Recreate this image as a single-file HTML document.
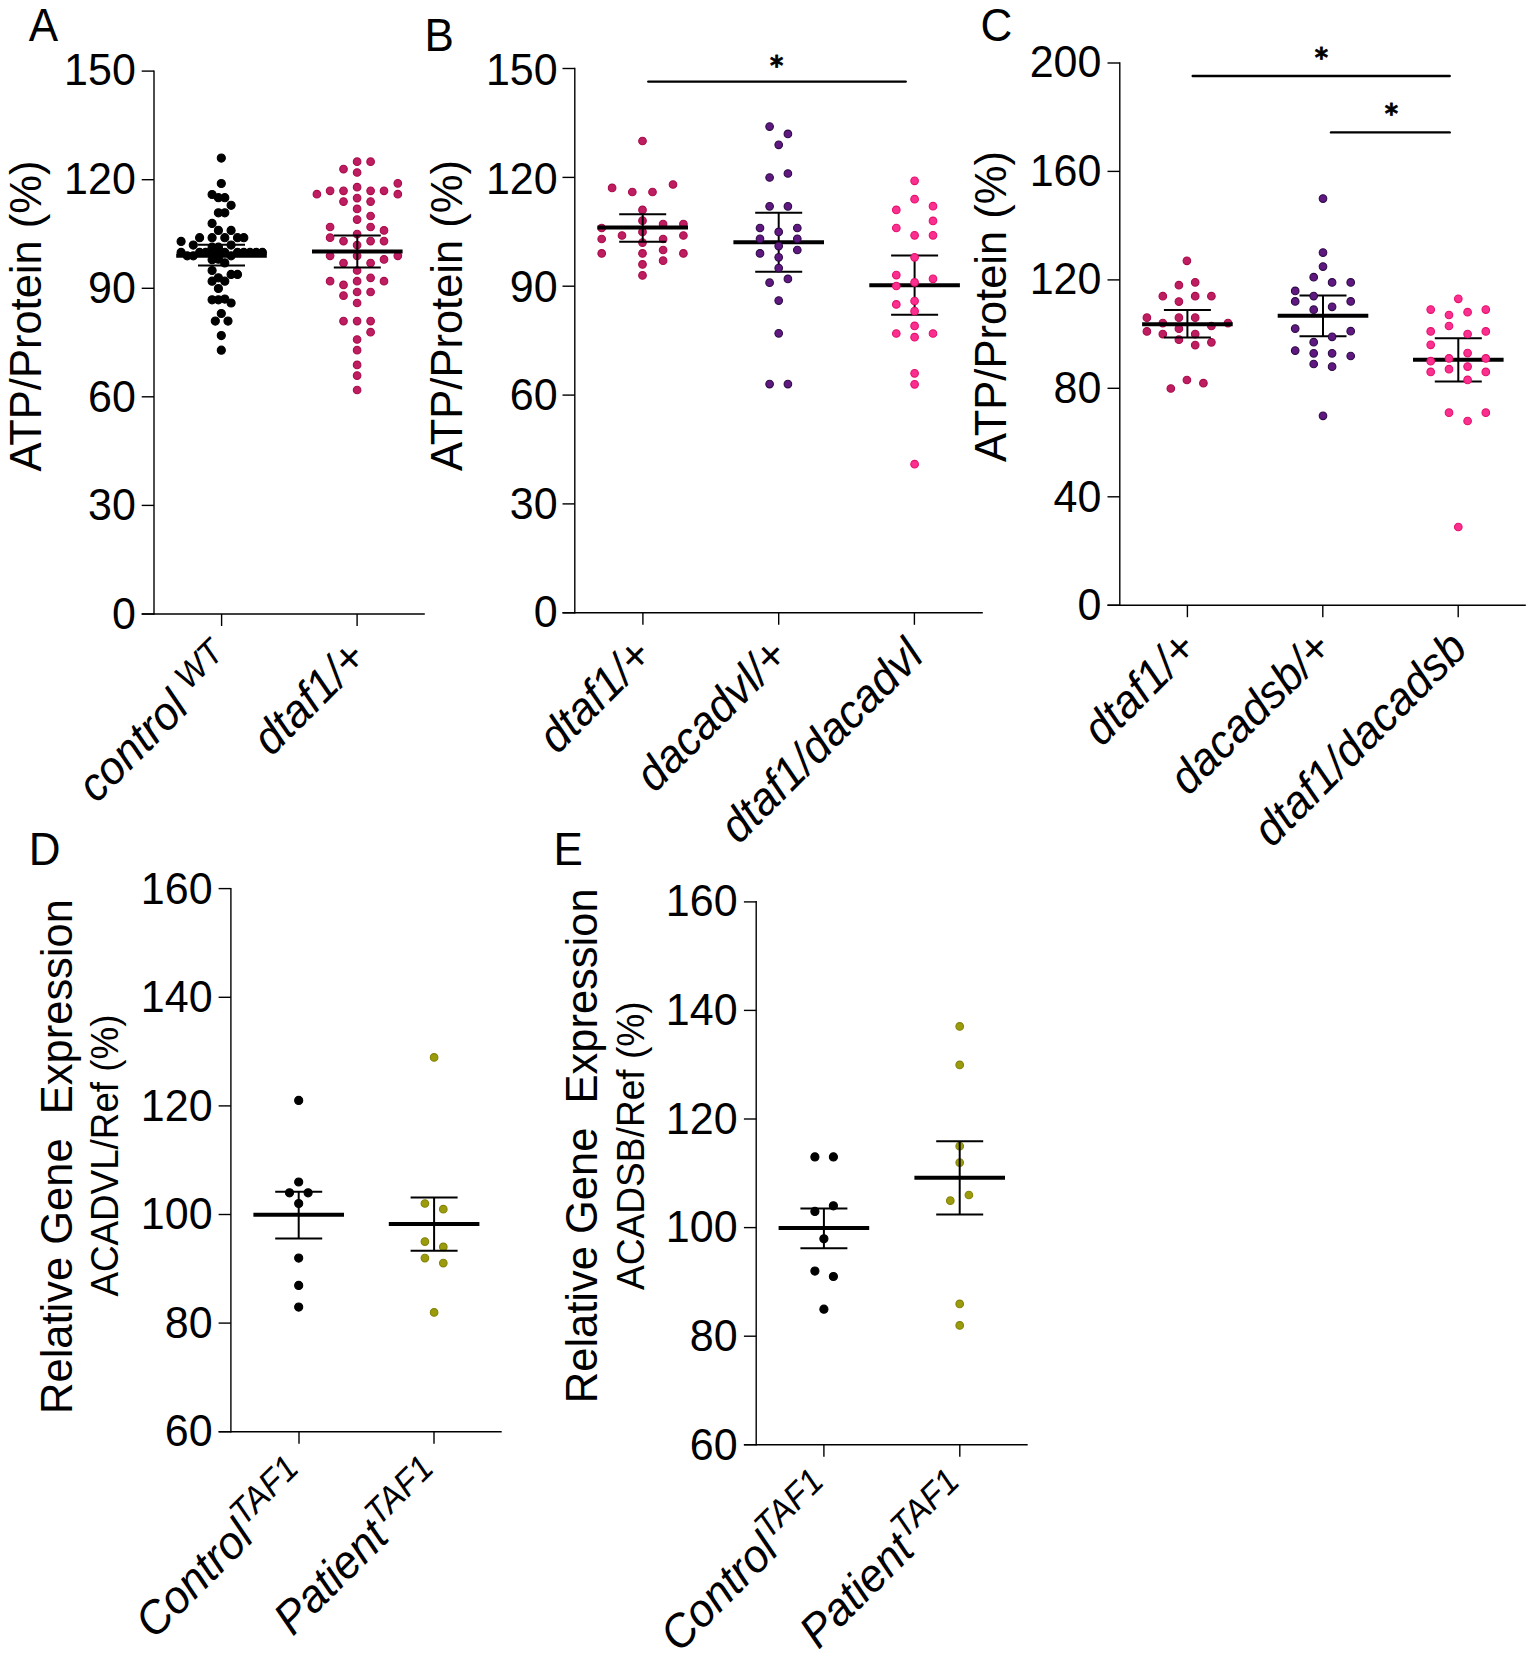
<!DOCTYPE html>
<html lang="en">
<head>
<meta charset="utf-8">
<title>Figure</title>
<style>
html,body{margin:0;padding:0;background:#fff;}
body{width:1535px;height:1658px;overflow:hidden;}
svg{display:block;font-family:"Liberation Sans", Arial, Helvetica, sans-serif;fill:#000;}
</style>
</head>
<body>
<svg width="1535" height="1658" viewBox="0 0 1535 1658">
<rect x="0" y="0" width="1535" height="1658" fill="#ffffff"/>
<line x1="154.0" y1="70.4" x2="154.0" y2="614.7" stroke="#000" stroke-width="1.4" stroke-linecap="butt"/>
<line x1="141.7" y1="614.0" x2="424.8" y2="614.0" stroke="#000" stroke-width="1.4" stroke-linecap="butt"/>
<line x1="141.7" y1="71.1" x2="154.0" y2="71.1" stroke="#000" stroke-width="1.4" stroke-linecap="butt"/>
<text font-size="43" text-anchor="end" transform="translate(135.8 85.4) scale(1 1.04)">150</text>
<line x1="141.7" y1="179.7" x2="154.0" y2="179.7" stroke="#000" stroke-width="1.4" stroke-linecap="butt"/>
<text font-size="43" text-anchor="end" transform="translate(135.8 194.1) scale(1 1.04)">120</text>
<line x1="141.7" y1="288.3" x2="154.0" y2="288.3" stroke="#000" stroke-width="1.4" stroke-linecap="butt"/>
<text font-size="43" text-anchor="end" transform="translate(135.8 302.8) scale(1 1.04)">90</text>
<line x1="141.7" y1="396.8" x2="154.0" y2="396.8" stroke="#000" stroke-width="1.4" stroke-linecap="butt"/>
<text font-size="43" text-anchor="end" transform="translate(135.8 411.6) scale(1 1.04)">60</text>
<line x1="141.7" y1="505.4" x2="154.0" y2="505.4" stroke="#000" stroke-width="1.4" stroke-linecap="butt"/>
<text font-size="43" text-anchor="end" transform="translate(135.8 520.3) scale(1 1.04)">30</text>
<line x1="141.7" y1="614.0" x2="154.0" y2="614.0" stroke="#000" stroke-width="1.4" stroke-linecap="butt"/>
<text font-size="43" text-anchor="end" transform="translate(135.8 629.0) scale(1 1.04)">0</text>
<line x1="221.6" y1="614.0" x2="221.6" y2="626.0" stroke="#000" stroke-width="1.4" stroke-linecap="butt"/>
<line x1="357.1" y1="614.0" x2="357.1" y2="626.0" stroke="#000" stroke-width="1.4" stroke-linecap="butt"/>
<text font-size="44" text-anchor="start" transform="translate(28.8 40.6) scale(1 1.04)">A</text>
<text font-size="43.5" text-anchor="start" transform="translate(41.2 471.5) rotate(-90) scale(1 1.04)">ATP/Protein (%)</text>
<line x1="221.5" y1="244.8" x2="221.5" y2="265.6" stroke="#000" stroke-width="2.0" stroke-linecap="butt"/>
<line x1="198.0" y1="244.8" x2="245.0" y2="244.8" stroke="#000" stroke-width="2.0" stroke-linecap="butt"/>
<line x1="198.0" y1="265.6" x2="245.0" y2="265.6" stroke="#000" stroke-width="2.0" stroke-linecap="butt"/>
<line x1="176.2" y1="255.8" x2="266.8" y2="255.8" stroke="#000" stroke-width="4.0" stroke-linecap="butt"/>
<g fill="#000000" stroke="#000000" stroke-width="1.1">
<circle cx="221.3" cy="158.1" r="4.05"/>
<circle cx="221.3" cy="183.5" r="4.05"/>
<circle cx="212.1" cy="194.5" r="4.05"/>
<circle cx="218.4" cy="197.7" r="4.05"/>
<circle cx="224.8" cy="197.7" r="4.05"/>
<circle cx="231.1" cy="205.3" r="4.05"/>
<circle cx="218.4" cy="212.8" r="4.05"/>
<circle cx="224.8" cy="212.8" r="4.05"/>
<circle cx="212.1" cy="223.4" r="4.05"/>
<circle cx="218.4" cy="230.4" r="4.05"/>
<circle cx="231.1" cy="230.4" r="4.05"/>
<circle cx="199.6" cy="237.7" r="4.05"/>
<circle cx="212.1" cy="237.7" r="4.05"/>
<circle cx="224.8" cy="237.7" r="4.05"/>
<circle cx="237.5" cy="237.7" r="4.05"/>
<circle cx="243.8" cy="237.7" r="4.05"/>
<circle cx="181.1" cy="241.4" r="4.05"/>
<circle cx="193.3" cy="245.1" r="4.05"/>
<circle cx="231.1" cy="245.1" r="4.05"/>
<circle cx="212.1" cy="247.2" r="4.05"/>
<circle cx="218.4" cy="247.2" r="4.05"/>
<circle cx="181.1" cy="252.4" r="4.05"/>
<circle cx="187.2" cy="255.8" r="4.05"/>
<circle cx="193.3" cy="255.8" r="4.05"/>
<circle cx="199.6" cy="252.4" r="4.05"/>
<circle cx="205.7" cy="252.4" r="4.05"/>
<circle cx="212.1" cy="252.4" r="4.05"/>
<circle cx="218.4" cy="252.4" r="4.05"/>
<circle cx="224.8" cy="252.4" r="4.05"/>
<circle cx="231.1" cy="255.8" r="4.05"/>
<circle cx="237.5" cy="252.4" r="4.05"/>
<circle cx="243.8" cy="252.4" r="4.05"/>
<circle cx="250.0" cy="252.4" r="4.05"/>
<circle cx="256.2" cy="252.4" r="4.05"/>
<circle cx="262.4" cy="252.4" r="4.05"/>
<circle cx="212.1" cy="259.7" r="4.05"/>
<circle cx="218.4" cy="259.2" r="4.05"/>
<circle cx="224.8" cy="262.9" r="4.05"/>
<circle cx="212.1" cy="270.5" r="4.05"/>
<circle cx="231.1" cy="274.4" r="4.05"/>
<circle cx="237.5" cy="274.4" r="4.05"/>
<circle cx="218.4" cy="277.8" r="4.05"/>
<circle cx="212.1" cy="281.2" r="4.05"/>
<circle cx="224.8" cy="281.2" r="4.05"/>
<circle cx="218.4" cy="288.5" r="4.05"/>
<circle cx="212.1" cy="299.8" r="4.05"/>
<circle cx="218.4" cy="299.8" r="4.05"/>
<circle cx="224.8" cy="299.1" r="4.05"/>
<circle cx="231.1" cy="303.0" r="4.05"/>
<circle cx="221.3" cy="313.5" r="4.05"/>
<circle cx="215.3" cy="321.1" r="4.05"/>
<circle cx="228.0" cy="321.1" r="4.05"/>
<circle cx="221.3" cy="335.6" r="4.05"/>
<circle cx="221.3" cy="350.2" r="4.05"/>
</g>
<g fill="#be1d62" stroke="#a80c48" stroke-width="1.1">
<circle cx="357.1" cy="161.7" r="3.8"/>
<circle cx="370.6" cy="161.7" r="3.8"/>
<circle cx="343.5" cy="169.1" r="3.8"/>
<circle cx="357.1" cy="172.5" r="3.8"/>
<circle cx="397.8" cy="183.3" r="3.8"/>
<circle cx="357.1" cy="187.2" r="3.8"/>
<circle cx="330.1" cy="190.8" r="3.8"/>
<circle cx="343.5" cy="190.8" r="3.8"/>
<circle cx="370.6" cy="190.8" r="3.8"/>
<circle cx="384.0" cy="190.8" r="3.8"/>
<circle cx="316.9" cy="194.2" r="3.8"/>
<circle cx="397.8" cy="194.2" r="3.8"/>
<circle cx="357.1" cy="198.1" r="3.8"/>
<circle cx="343.5" cy="201.6" r="3.8"/>
<circle cx="370.6" cy="201.6" r="3.8"/>
<circle cx="357.1" cy="208.9" r="3.8"/>
<circle cx="370.6" cy="216.0" r="3.8"/>
<circle cx="357.1" cy="219.6" r="3.8"/>
<circle cx="330.1" cy="227.0" r="3.8"/>
<circle cx="370.6" cy="227.0" r="3.8"/>
<circle cx="384.0" cy="230.4" r="3.8"/>
<circle cx="357.1" cy="234.1" r="3.8"/>
<circle cx="330.1" cy="237.7" r="3.8"/>
<circle cx="343.5" cy="241.1" r="3.8"/>
<circle cx="370.6" cy="241.1" r="3.8"/>
<circle cx="384.0" cy="241.1" r="3.8"/>
<circle cx="357.1" cy="245.1" r="3.8"/>
<circle cx="330.1" cy="255.8" r="3.8"/>
<circle cx="357.1" cy="255.8" r="3.8"/>
<circle cx="397.8" cy="255.8" r="3.8"/>
<circle cx="384.0" cy="259.4" r="3.8"/>
<circle cx="343.5" cy="263.1" r="3.8"/>
<circle cx="370.6" cy="263.1" r="3.8"/>
<circle cx="357.1" cy="270.5" r="3.8"/>
<circle cx="370.6" cy="277.8" r="3.8"/>
<circle cx="330.1" cy="281.2" r="3.8"/>
<circle cx="357.1" cy="281.2" r="3.8"/>
<circle cx="384.0" cy="281.2" r="3.8"/>
<circle cx="343.5" cy="284.9" r="3.8"/>
<circle cx="357.1" cy="292.0" r="3.8"/>
<circle cx="370.6" cy="292.0" r="3.8"/>
<circle cx="343.5" cy="295.7" r="3.8"/>
<circle cx="357.1" cy="303.0" r="3.8"/>
<circle cx="343.5" cy="321.1" r="3.8"/>
<circle cx="357.1" cy="321.1" r="3.8"/>
<circle cx="370.6" cy="321.1" r="3.8"/>
<circle cx="370.6" cy="332.2" r="3.8"/>
<circle cx="357.1" cy="339.5" r="3.8"/>
<circle cx="357.1" cy="350.2" r="3.8"/>
<circle cx="357.1" cy="364.9" r="3.8"/>
<circle cx="357.1" cy="375.6" r="3.8"/>
<circle cx="357.1" cy="390.0" r="3.8"/>
</g>
<line x1="357.3" y1="235.6" x2="357.3" y2="267.5" stroke="#000" stroke-width="2.0" stroke-linecap="butt"/>
<line x1="333.8" y1="235.6" x2="380.8" y2="235.6" stroke="#000" stroke-width="2.0" stroke-linecap="butt"/>
<line x1="333.8" y1="267.5" x2="380.8" y2="267.5" stroke="#000" stroke-width="2.0" stroke-linecap="butt"/>
<line x1="312.0" y1="251.5" x2="402.6" y2="251.5" stroke="#000" stroke-width="4.0" stroke-linecap="butt"/>
<text font-size="44.5" text-anchor="end" font-style="italic" transform="translate(236.0 664.7) rotate(-45) scale(1 1.04)">control<tspan font-size="33.5" dx="2.5" dy="-14.3"> WT</tspan></text>
<text font-size="44.5" text-anchor="end" font-style="italic" transform="translate(368.5 660.3) rotate(-45) scale(1 1.04)">dtaf1/+</text>
<line x1="574.8" y1="67.8" x2="574.8" y2="613.5" stroke="#000" stroke-width="1.4" stroke-linecap="butt"/>
<line x1="562.5" y1="612.8" x2="982.8" y2="612.8" stroke="#000" stroke-width="1.4" stroke-linecap="butt"/>
<line x1="562.5" y1="68.5" x2="574.8" y2="68.5" stroke="#000" stroke-width="1.4" stroke-linecap="butt"/>
<text font-size="43" text-anchor="end" transform="translate(557.7 85.3) scale(1 1.04)">150</text>
<line x1="562.5" y1="177.4" x2="574.8" y2="177.4" stroke="#000" stroke-width="1.4" stroke-linecap="butt"/>
<text font-size="43" text-anchor="end" transform="translate(557.7 193.7) scale(1 1.04)">120</text>
<line x1="562.5" y1="286.2" x2="574.8" y2="286.2" stroke="#000" stroke-width="1.4" stroke-linecap="butt"/>
<text font-size="43" text-anchor="end" transform="translate(557.7 302.1) scale(1 1.04)">90</text>
<line x1="562.5" y1="395.1" x2="574.8" y2="395.1" stroke="#000" stroke-width="1.4" stroke-linecap="butt"/>
<text font-size="43" text-anchor="end" transform="translate(557.7 410.4) scale(1 1.04)">60</text>
<line x1="562.5" y1="503.9" x2="574.8" y2="503.9" stroke="#000" stroke-width="1.4" stroke-linecap="butt"/>
<text font-size="43" text-anchor="end" transform="translate(557.7 518.8) scale(1 1.04)">30</text>
<line x1="562.5" y1="612.8" x2="574.8" y2="612.8" stroke="#000" stroke-width="1.4" stroke-linecap="butt"/>
<text font-size="43" text-anchor="end" transform="translate(557.7 627.2) scale(1 1.04)">0</text>
<line x1="642.9" y1="612.8" x2="642.9" y2="624.8" stroke="#000" stroke-width="1.4" stroke-linecap="butt"/>
<line x1="778.7" y1="612.8" x2="778.7" y2="624.8" stroke="#000" stroke-width="1.4" stroke-linecap="butt"/>
<line x1="914.4" y1="612.8" x2="914.4" y2="624.8" stroke="#000" stroke-width="1.4" stroke-linecap="butt"/>
<text font-size="44" text-anchor="start" transform="translate(424.6 51.2) scale(1 1.04)">B</text>
<text font-size="43.5" text-anchor="start" transform="translate(462.0 471.0) rotate(-90) scale(1 1.04)">ATP/Protein (%)</text>
<g fill="#be1d62" stroke="#a80c48" stroke-width="1.1">
<circle cx="642.5" cy="141.0" r="3.8"/>
<circle cx="612.1" cy="187.9" r="3.8"/>
<circle cx="673.0" cy="184.5" r="3.8"/>
<circle cx="632.3" cy="192.0" r="3.8"/>
<circle cx="652.5" cy="192.0" r="3.8"/>
<circle cx="642.5" cy="209.9" r="3.8"/>
<circle cx="642.5" cy="220.7" r="3.8"/>
<circle cx="663.1" cy="224.1" r="3.8"/>
<circle cx="683.4" cy="224.1" r="3.8"/>
<circle cx="601.7" cy="228.0" r="3.8"/>
<circle cx="642.5" cy="231.9" r="3.8"/>
<circle cx="622.0" cy="235.5" r="3.8"/>
<circle cx="683.4" cy="235.5" r="3.8"/>
<circle cx="601.7" cy="239.0" r="3.8"/>
<circle cx="663.1" cy="239.0" r="3.8"/>
<circle cx="642.5" cy="242.6" r="3.8"/>
<circle cx="663.1" cy="250.0" r="3.8"/>
<circle cx="601.7" cy="253.4" r="3.8"/>
<circle cx="642.5" cy="253.4" r="3.8"/>
<circle cx="683.4" cy="253.4" r="3.8"/>
<circle cx="663.1" cy="260.7" r="3.8"/>
<circle cx="642.5" cy="264.4" r="3.8"/>
<circle cx="642.5" cy="275.4" r="3.8"/>
</g>
<line x1="642.7" y1="214.3" x2="642.7" y2="241.7" stroke="#000" stroke-width="2.0" stroke-linecap="butt"/>
<line x1="619.2" y1="214.3" x2="666.2" y2="214.3" stroke="#000" stroke-width="2.0" stroke-linecap="butt"/>
<line x1="619.2" y1="241.7" x2="666.2" y2="241.7" stroke="#000" stroke-width="2.0" stroke-linecap="butt"/>
<line x1="597.4" y1="227.5" x2="688.0" y2="227.5" stroke="#000" stroke-width="4.0" stroke-linecap="butt"/>
<line x1="778.7" y1="212.7" x2="778.7" y2="271.8" stroke="#000" stroke-width="2.0" stroke-linecap="butt"/>
<line x1="755.2" y1="212.7" x2="802.2" y2="212.7" stroke="#000" stroke-width="2.0" stroke-linecap="butt"/>
<line x1="755.2" y1="271.8" x2="802.2" y2="271.8" stroke="#000" stroke-width="2.0" stroke-linecap="butt"/>
<line x1="733.4" y1="242.2" x2="824.0" y2="242.2" stroke="#000" stroke-width="4.0" stroke-linecap="butt"/>
<g fill="#5f1880" stroke="#2e0b47" stroke-width="1.1">
<circle cx="769.6" cy="126.6" r="3.8"/>
<circle cx="787.9" cy="133.9" r="3.8"/>
<circle cx="778.7" cy="144.8" r="3.8"/>
<circle cx="787.9" cy="173.5" r="3.8"/>
<circle cx="769.6" cy="177.5" r="3.8"/>
<circle cx="769.6" cy="206.3" r="3.8"/>
<circle cx="787.9" cy="206.3" r="3.8"/>
<circle cx="760.0" cy="228.0" r="3.8"/>
<circle cx="797.3" cy="228.0" r="3.8"/>
<circle cx="778.7" cy="231.9" r="3.8"/>
<circle cx="760.0" cy="238.8" r="3.8"/>
<circle cx="797.3" cy="238.8" r="3.8"/>
<circle cx="778.7" cy="246.1" r="3.8"/>
<circle cx="797.3" cy="250.0" r="3.8"/>
<circle cx="760.0" cy="253.4" r="3.8"/>
<circle cx="778.7" cy="257.3" r="3.8"/>
<circle cx="778.7" cy="268.1" r="3.8"/>
<circle cx="787.9" cy="278.9" r="3.8"/>
<circle cx="769.6" cy="282.7" r="3.8"/>
<circle cx="778.7" cy="300.6" r="3.8"/>
<circle cx="778.7" cy="333.3" r="3.8"/>
<circle cx="769.6" cy="384.1" r="3.8"/>
<circle cx="787.9" cy="384.1" r="3.8"/>
</g>
<line x1="914.6" y1="255.5" x2="914.6" y2="314.7" stroke="#000" stroke-width="2.0" stroke-linecap="butt"/>
<line x1="891.1" y1="255.5" x2="938.1" y2="255.5" stroke="#000" stroke-width="2.0" stroke-linecap="butt"/>
<line x1="891.1" y1="314.7" x2="938.1" y2="314.7" stroke="#000" stroke-width="2.0" stroke-linecap="butt"/>
<line x1="869.3" y1="285.2" x2="959.9" y2="285.2" stroke="#000" stroke-width="4.0" stroke-linecap="butt"/>
<g fill="#fa2f90" stroke="#e3126c" stroke-width="1.1">
<circle cx="914.6" cy="180.8" r="3.8"/>
<circle cx="914.6" cy="199.2" r="3.8"/>
<circle cx="933.0" cy="206.2" r="3.8"/>
<circle cx="896.3" cy="209.9" r="3.8"/>
<circle cx="933.0" cy="220.9" r="3.8"/>
<circle cx="896.3" cy="228.0" r="3.8"/>
<circle cx="914.6" cy="235.3" r="3.8"/>
<circle cx="933.0" cy="235.3" r="3.8"/>
<circle cx="914.6" cy="257.3" r="3.8"/>
<circle cx="896.3" cy="275.1" r="3.8"/>
<circle cx="933.0" cy="278.8" r="3.8"/>
<circle cx="914.6" cy="282.4" r="3.8"/>
<circle cx="896.3" cy="286.0" r="3.8"/>
<circle cx="914.6" cy="301.0" r="3.8"/>
<circle cx="896.3" cy="304.4" r="3.8"/>
<circle cx="914.6" cy="311.2" r="3.8"/>
<circle cx="914.6" cy="325.9" r="3.8"/>
<circle cx="896.3" cy="333.5" r="3.8"/>
<circle cx="933.0" cy="333.5" r="3.8"/>
<circle cx="914.6" cy="337.2" r="3.8"/>
<circle cx="914.6" cy="373.3" r="3.8"/>
<circle cx="914.6" cy="384.3" r="3.8"/>
<circle cx="914.6" cy="464.2" r="3.8"/>
</g>
<line x1="648.3" y1="81.6" x2="905.7" y2="81.6" stroke="#000" stroke-width="2.4" stroke-linecap="round"/>
<text font-size="25.4" text-anchor="middle" transform="translate(776.7 75.0) scale(1 1.08)" font-weight="bold" font-family="DejaVu Sans, Liberation Sans, sans-serif" stroke="#000" stroke-width="0.7" stroke-linejoin="round">*</text>
<text font-size="44.5" text-anchor="end" font-style="italic" transform="translate(654.3 658.2) rotate(-45) scale(1 1.04)">dtaf1/+</text>
<text font-size="44.5" text-anchor="end" font-style="italic" transform="translate(790.1 658.2) rotate(-45) scale(1 1.04)">dacadvl/+</text>
<text font-size="44.5" text-anchor="end" font-style="italic" transform="translate(925.8 658.2) rotate(-45) scale(1 1.04)">dtaf1/dacadvl</text>
<line x1="1119.8" y1="62.3" x2="1119.8" y2="605.9" stroke="#000" stroke-width="1.4" stroke-linecap="butt"/>
<line x1="1107.5" y1="605.2" x2="1525.8" y2="605.2" stroke="#000" stroke-width="1.4" stroke-linecap="butt"/>
<line x1="1107.5" y1="63.0" x2="1119.8" y2="63.0" stroke="#000" stroke-width="1.4" stroke-linecap="butt"/>
<text font-size="43" text-anchor="end" transform="translate(1101.4 77.0) scale(1 1.04)">200</text>
<line x1="1107.5" y1="171.4" x2="1119.8" y2="171.4" stroke="#000" stroke-width="1.4" stroke-linecap="butt"/>
<text font-size="43" text-anchor="end" transform="translate(1101.4 185.6) scale(1 1.04)">160</text>
<line x1="1107.5" y1="279.9" x2="1119.8" y2="279.9" stroke="#000" stroke-width="1.4" stroke-linecap="butt"/>
<text font-size="43" text-anchor="end" transform="translate(1101.4 294.3) scale(1 1.04)">120</text>
<line x1="1107.5" y1="388.3" x2="1119.8" y2="388.3" stroke="#000" stroke-width="1.4" stroke-linecap="butt"/>
<text font-size="43" text-anchor="end" transform="translate(1101.4 402.9) scale(1 1.04)">80</text>
<line x1="1107.5" y1="496.8" x2="1119.8" y2="496.8" stroke="#000" stroke-width="1.4" stroke-linecap="butt"/>
<text font-size="43" text-anchor="end" transform="translate(1101.4 511.6) scale(1 1.04)">40</text>
<line x1="1107.5" y1="605.2" x2="1119.8" y2="605.2" stroke="#000" stroke-width="1.4" stroke-linecap="butt"/>
<text font-size="43" text-anchor="end" transform="translate(1101.4 620.2) scale(1 1.04)">0</text>
<line x1="1187.4" y1="605.2" x2="1187.4" y2="617.2" stroke="#000" stroke-width="1.4" stroke-linecap="butt"/>
<line x1="1322.8" y1="605.2" x2="1322.8" y2="617.2" stroke="#000" stroke-width="1.4" stroke-linecap="butt"/>
<line x1="1458.2" y1="605.2" x2="1458.2" y2="617.2" stroke="#000" stroke-width="1.4" stroke-linecap="butt"/>
<text font-size="44" text-anchor="start" transform="translate(980.5 41.2) scale(1 1.04)">C</text>
<text font-size="43.5" text-anchor="start" transform="translate(1006.0 462.0) rotate(-90) scale(1 1.04)">ATP/Protein (%)</text>
<g fill="#be1d62" stroke="#a80c48" stroke-width="1.1">
<circle cx="1186.9" cy="260.8" r="3.8"/>
<circle cx="1195.2" cy="282.3" r="3.8"/>
<circle cx="1178.9" cy="285.2" r="3.8"/>
<circle cx="1162.8" cy="296.2" r="3.8"/>
<circle cx="1195.2" cy="296.2" r="3.8"/>
<circle cx="1211.4" cy="296.2" r="3.8"/>
<circle cx="1178.9" cy="301.6" r="3.8"/>
<circle cx="1146.9" cy="317.7" r="3.8"/>
<circle cx="1178.9" cy="317.7" r="3.8"/>
<circle cx="1195.2" cy="317.7" r="3.8"/>
<circle cx="1162.8" cy="323.1" r="3.8"/>
<circle cx="1228.0" cy="323.1" r="3.8"/>
<circle cx="1211.4" cy="326.0" r="3.8"/>
<circle cx="1178.9" cy="328.7" r="3.8"/>
<circle cx="1146.9" cy="331.4" r="3.8"/>
<circle cx="1162.8" cy="334.1" r="3.8"/>
<circle cx="1195.2" cy="334.1" r="3.8"/>
<circle cx="1178.9" cy="339.7" r="3.8"/>
<circle cx="1211.4" cy="342.3" r="3.8"/>
<circle cx="1195.2" cy="345.1" r="3.8"/>
<circle cx="1186.9" cy="380.0" r="3.8"/>
<circle cx="1203.4" cy="383.2" r="3.8"/>
<circle cx="1170.8" cy="388.5" r="3.8"/>
</g>
<line x1="1187.4" y1="310.1" x2="1187.4" y2="337.4" stroke="#000" stroke-width="2.0" stroke-linecap="butt"/>
<line x1="1163.9" y1="310.1" x2="1210.9" y2="310.1" stroke="#000" stroke-width="2.0" stroke-linecap="butt"/>
<line x1="1163.9" y1="337.4" x2="1210.9" y2="337.4" stroke="#000" stroke-width="2.0" stroke-linecap="butt"/>
<line x1="1142.1" y1="324.2" x2="1232.7" y2="324.2" stroke="#000" stroke-width="4.0" stroke-linecap="butt"/>
<line x1="1323.0" y1="295.6" x2="1323.0" y2="336.2" stroke="#000" stroke-width="2.0" stroke-linecap="butt"/>
<line x1="1299.5" y1="295.6" x2="1346.5" y2="295.6" stroke="#000" stroke-width="2.0" stroke-linecap="butt"/>
<line x1="1299.5" y1="336.2" x2="1346.5" y2="336.2" stroke="#000" stroke-width="2.0" stroke-linecap="butt"/>
<line x1="1277.7" y1="315.8" x2="1368.3" y2="315.8" stroke="#000" stroke-width="4.0" stroke-linecap="butt"/>
<g fill="#5f1880" stroke="#2e0b47" stroke-width="1.1">
<circle cx="1323.0" cy="198.6" r="3.8"/>
<circle cx="1323.0" cy="252.6" r="3.8"/>
<circle cx="1323.0" cy="266.6" r="3.8"/>
<circle cx="1313.7" cy="277.2" r="3.8"/>
<circle cx="1332.1" cy="282.4" r="3.8"/>
<circle cx="1350.7" cy="282.4" r="3.8"/>
<circle cx="1295.2" cy="290.9" r="3.8"/>
<circle cx="1313.7" cy="296.1" r="3.8"/>
<circle cx="1295.2" cy="301.4" r="3.8"/>
<circle cx="1350.7" cy="301.4" r="3.8"/>
<circle cx="1332.1" cy="306.8" r="3.8"/>
<circle cx="1313.7" cy="309.7" r="3.8"/>
<circle cx="1295.2" cy="328.6" r="3.8"/>
<circle cx="1350.7" cy="331.2" r="3.8"/>
<circle cx="1332.1" cy="336.8" r="3.8"/>
<circle cx="1313.7" cy="342.2" r="3.8"/>
<circle cx="1295.2" cy="350.6" r="3.8"/>
<circle cx="1313.7" cy="353.3" r="3.8"/>
<circle cx="1332.1" cy="353.3" r="3.8"/>
<circle cx="1350.7" cy="356.0" r="3.8"/>
<circle cx="1313.7" cy="364.0" r="3.8"/>
<circle cx="1332.1" cy="366.7" r="3.8"/>
<circle cx="1323.0" cy="415.8" r="3.8"/>
</g>
<line x1="1458.3" y1="338.2" x2="1458.3" y2="381.6" stroke="#000" stroke-width="2.0" stroke-linecap="butt"/>
<line x1="1434.8" y1="338.2" x2="1481.8" y2="338.2" stroke="#000" stroke-width="2.0" stroke-linecap="butt"/>
<line x1="1434.8" y1="381.6" x2="1481.8" y2="381.6" stroke="#000" stroke-width="2.0" stroke-linecap="butt"/>
<line x1="1413.0" y1="359.7" x2="1503.6" y2="359.7" stroke="#000" stroke-width="4.0" stroke-linecap="butt"/>
<g fill="#fa2f90" stroke="#e3126c" stroke-width="1.1">
<circle cx="1458.3" cy="298.8" r="3.8"/>
<circle cx="1430.7" cy="309.6" r="3.8"/>
<circle cx="1485.8" cy="309.6" r="3.8"/>
<circle cx="1467.6" cy="312.2" r="3.8"/>
<circle cx="1449.0" cy="315.0" r="3.8"/>
<circle cx="1449.0" cy="326.0" r="3.8"/>
<circle cx="1430.7" cy="331.4" r="3.8"/>
<circle cx="1485.8" cy="331.4" r="3.8"/>
<circle cx="1467.6" cy="334.0" r="3.8"/>
<circle cx="1430.7" cy="344.8" r="3.8"/>
<circle cx="1467.6" cy="353.1" r="3.8"/>
<circle cx="1449.0" cy="358.4" r="3.8"/>
<circle cx="1485.8" cy="358.4" r="3.8"/>
<circle cx="1430.7" cy="361.2" r="3.8"/>
<circle cx="1467.6" cy="366.6" r="3.8"/>
<circle cx="1449.0" cy="369.2" r="3.8"/>
<circle cx="1430.7" cy="371.9" r="3.8"/>
<circle cx="1485.8" cy="371.9" r="3.8"/>
<circle cx="1467.6" cy="379.9" r="3.8"/>
<circle cx="1449.0" cy="412.7" r="3.8"/>
<circle cx="1485.8" cy="412.7" r="3.8"/>
<circle cx="1467.6" cy="421.0" r="3.8"/>
<circle cx="1458.3" cy="527.0" r="3.8"/>
</g>
<line x1="1192.7" y1="76.0" x2="1449.7" y2="76.0" stroke="#000" stroke-width="2.4" stroke-linecap="round"/>
<line x1="1331.0" y1="132.4" x2="1449.7" y2="132.4" stroke="#000" stroke-width="2.4" stroke-linecap="round"/>
<text font-size="25.4" text-anchor="middle" transform="translate(1321.4 67.0) scale(1 1.08)" font-weight="bold" font-family="DejaVu Sans, Liberation Sans, sans-serif" stroke="#000" stroke-width="0.7" stroke-linejoin="round">*</text>
<text font-size="25.4" text-anchor="middle" transform="translate(1391.3 123.3) scale(1 1.08)" font-weight="bold" font-family="DejaVu Sans, Liberation Sans, sans-serif" stroke="#000" stroke-width="0.7" stroke-linejoin="round">*</text>
<text font-size="44.5" text-anchor="end" font-style="italic" transform="translate(1198.8 650.8) rotate(-45) scale(1 1.04)">dtaf1/+</text>
<text font-size="44.5" text-anchor="end" font-style="italic" transform="translate(1334.2 650.8) rotate(-45) scale(1 1.04)">dacadsb/+</text>
<text font-size="44.5" text-anchor="end" font-style="italic" transform="translate(1469.6 650.8) rotate(-45) scale(1 1.04)">dtaf1/dacadsb</text>
<line x1="230.9" y1="887.9" x2="230.9" y2="1432.4" stroke="#000" stroke-width="1.4" stroke-linecap="butt"/>
<line x1="218.6" y1="1431.7" x2="501.7" y2="1431.7" stroke="#000" stroke-width="1.4" stroke-linecap="butt"/>
<line x1="218.6" y1="888.6" x2="230.9" y2="888.6" stroke="#000" stroke-width="1.4" stroke-linecap="butt"/>
<text font-size="43" text-anchor="end" transform="translate(212.6 903.5) scale(1 1.04)">160</text>
<line x1="218.6" y1="997.3" x2="230.9" y2="997.3" stroke="#000" stroke-width="1.4" stroke-linecap="butt"/>
<text font-size="43" text-anchor="end" transform="translate(212.6 1012.1) scale(1 1.04)">140</text>
<line x1="218.6" y1="1105.9" x2="230.9" y2="1105.9" stroke="#000" stroke-width="1.4" stroke-linecap="butt"/>
<text font-size="43" text-anchor="end" transform="translate(212.6 1120.6) scale(1 1.04)">120</text>
<line x1="218.6" y1="1214.5" x2="230.9" y2="1214.5" stroke="#000" stroke-width="1.4" stroke-linecap="butt"/>
<text font-size="43" text-anchor="end" transform="translate(212.6 1229.2) scale(1 1.04)">100</text>
<line x1="218.6" y1="1323.1" x2="230.9" y2="1323.1" stroke="#000" stroke-width="1.4" stroke-linecap="butt"/>
<text font-size="43" text-anchor="end" transform="translate(212.6 1337.7) scale(1 1.04)">80</text>
<line x1="218.6" y1="1431.7" x2="230.9" y2="1431.7" stroke="#000" stroke-width="1.4" stroke-linecap="butt"/>
<text font-size="43" text-anchor="end" transform="translate(212.6 1446.2) scale(1 1.04)">60</text>
<line x1="299.0" y1="1431.7" x2="299.0" y2="1443.7" stroke="#000" stroke-width="1.4" stroke-linecap="butt"/>
<line x1="434.0" y1="1431.7" x2="434.0" y2="1443.7" stroke="#000" stroke-width="1.4" stroke-linecap="butt"/>
<text font-size="44" text-anchor="start" transform="translate(28.8 865.2) scale(1 1.04)">D</text>
<text font-size="43.5" text-anchor="start" transform="translate(71.8 1413.9) rotate(-90) scale(1 1.04)">Relative Gene&#160;&#160;Expression</text>
<text font-size="36.8" text-anchor="start" transform="translate(118.0 1296.6) rotate(-90) scale(1 1.04)">ACADVL/Ref (%)</text>
<line x1="298.7" y1="1191.8" x2="298.7" y2="1238.5" stroke="#000" stroke-width="2.0" stroke-linecap="butt"/>
<line x1="275.2" y1="1191.8" x2="322.2" y2="1191.8" stroke="#000" stroke-width="2.0" stroke-linecap="butt"/>
<line x1="275.2" y1="1238.5" x2="322.2" y2="1238.5" stroke="#000" stroke-width="2.0" stroke-linecap="butt"/>
<line x1="253.4" y1="1214.7" x2="344.0" y2="1214.7" stroke="#000" stroke-width="4.0" stroke-linecap="butt"/>
<g fill="#000000" stroke="#000000" stroke-width="1.1">
<circle cx="298.7" cy="1100.4" r="4.05"/>
<circle cx="298.7" cy="1182.0" r="4.05"/>
<circle cx="289.5" cy="1192.8" r="4.05"/>
<circle cx="308.1" cy="1192.8" r="4.05"/>
<circle cx="298.7" cy="1203.5" r="4.05"/>
<circle cx="298.7" cy="1258.1" r="4.05"/>
<circle cx="298.7" cy="1285.4" r="4.05"/>
<circle cx="298.7" cy="1307.1" r="4.05"/>
</g>
<g fill="#9b9b0c" stroke="#84840a" stroke-width="1.1">
<circle cx="434.1" cy="1057.4" r="3.8"/>
<circle cx="424.9" cy="1203.5" r="3.8"/>
<circle cx="443.3" cy="1209.2" r="3.8"/>
<circle cx="424.9" cy="1241.6" r="3.8"/>
<circle cx="443.3" cy="1246.9" r="3.8"/>
<circle cx="424.9" cy="1258.1" r="3.8"/>
<circle cx="443.3" cy="1263.1" r="3.8"/>
<circle cx="434.1" cy="1312.4" r="3.8"/>
</g>
<line x1="434.1" y1="1197.5" x2="434.1" y2="1250.8" stroke="#000" stroke-width="2.0" stroke-linecap="butt"/>
<line x1="410.6" y1="1197.5" x2="457.6" y2="1197.5" stroke="#000" stroke-width="2.0" stroke-linecap="butt"/>
<line x1="410.6" y1="1250.8" x2="457.6" y2="1250.8" stroke="#000" stroke-width="2.0" stroke-linecap="butt"/>
<line x1="388.8" y1="1223.9" x2="479.4" y2="1223.9" stroke="#000" stroke-width="4.0" stroke-linecap="butt"/>
<text font-size="44.5" text-anchor="end" font-style="italic" transform="translate(312.6 1482.0) rotate(-45) scale(1 1.04)">Control<tspan font-size="34" dx="0" dy="-16.2">TAF1</tspan></text>
<text font-size="44.5" text-anchor="end" font-style="italic" transform="translate(447.6 1482.0) rotate(-45) scale(1 1.04)">Patient<tspan font-size="34" dx="0" dy="-16.2">TAF1</tspan></text>
<line x1="756.2" y1="901.1" x2="756.2" y2="1445.4" stroke="#000" stroke-width="1.4" stroke-linecap="butt"/>
<line x1="743.9" y1="1444.7" x2="1027.7" y2="1444.7" stroke="#000" stroke-width="1.4" stroke-linecap="butt"/>
<line x1="743.9" y1="901.9" x2="756.2" y2="901.9" stroke="#000" stroke-width="1.4" stroke-linecap="butt"/>
<text font-size="43" text-anchor="end" transform="translate(737.6 916.4) scale(1 1.04)">160</text>
<line x1="743.9" y1="1010.4" x2="756.2" y2="1010.4" stroke="#000" stroke-width="1.4" stroke-linecap="butt"/>
<text font-size="43" text-anchor="end" transform="translate(737.6 1025.0) scale(1 1.04)">140</text>
<line x1="743.9" y1="1119.0" x2="756.2" y2="1119.0" stroke="#000" stroke-width="1.4" stroke-linecap="butt"/>
<text font-size="43" text-anchor="end" transform="translate(737.6 1133.7) scale(1 1.04)">120</text>
<line x1="743.9" y1="1227.6" x2="756.2" y2="1227.6" stroke="#000" stroke-width="1.4" stroke-linecap="butt"/>
<text font-size="43" text-anchor="end" transform="translate(737.6 1242.3) scale(1 1.04)">100</text>
<line x1="743.9" y1="1336.2" x2="756.2" y2="1336.2" stroke="#000" stroke-width="1.4" stroke-linecap="butt"/>
<text font-size="43" text-anchor="end" transform="translate(737.6 1351.0) scale(1 1.04)">80</text>
<line x1="743.9" y1="1444.7" x2="756.2" y2="1444.7" stroke="#000" stroke-width="1.4" stroke-linecap="butt"/>
<text font-size="43" text-anchor="end" transform="translate(737.6 1459.6) scale(1 1.04)">60</text>
<line x1="823.9" y1="1444.7" x2="823.9" y2="1456.7" stroke="#000" stroke-width="1.4" stroke-linecap="butt"/>
<line x1="959.8" y1="1444.7" x2="959.8" y2="1456.7" stroke="#000" stroke-width="1.4" stroke-linecap="butt"/>
<text font-size="44" text-anchor="start" transform="translate(553.5 865.2) scale(1 1.04)">E</text>
<text font-size="43.5" text-anchor="start" transform="translate(597.2 1403.2) rotate(-90) scale(1 1.04)">Relative Gene&#160;&#160;Expression</text>
<text font-size="37.1" text-anchor="start" transform="translate(643.5 1289.9) rotate(-90) scale(1 1.04)">ACADSB/Ref (%)</text>
<line x1="823.9" y1="1208.5" x2="823.9" y2="1248.2" stroke="#000" stroke-width="2.0" stroke-linecap="butt"/>
<line x1="800.4" y1="1208.5" x2="847.4" y2="1208.5" stroke="#000" stroke-width="2.0" stroke-linecap="butt"/>
<line x1="800.4" y1="1248.2" x2="847.4" y2="1248.2" stroke="#000" stroke-width="2.0" stroke-linecap="butt"/>
<line x1="778.6" y1="1228.1" x2="869.2" y2="1228.1" stroke="#000" stroke-width="4.0" stroke-linecap="butt"/>
<g fill="#000000" stroke="#000000" stroke-width="1.1">
<circle cx="814.9" cy="1156.9" r="4.05"/>
<circle cx="833.4" cy="1156.9" r="4.05"/>
<circle cx="833.4" cy="1205.8" r="4.05"/>
<circle cx="814.9" cy="1211.4" r="4.05"/>
<circle cx="823.9" cy="1238.8" r="4.05"/>
<circle cx="814.9" cy="1271.1" r="4.05"/>
<circle cx="833.4" cy="1276.5" r="4.05"/>
<circle cx="823.9" cy="1309.2" r="4.05"/>
</g>
<g fill="#9b9b0c" stroke="#84840a" stroke-width="1.1">
<circle cx="959.7" cy="1026.4" r="3.8"/>
<circle cx="959.7" cy="1064.9" r="3.8"/>
<circle cx="959.7" cy="1146.2" r="3.8"/>
<circle cx="959.7" cy="1162.6" r="3.8"/>
<circle cx="968.9" cy="1195.0" r="3.8"/>
<circle cx="950.3" cy="1200.7" r="3.8"/>
<circle cx="959.7" cy="1303.9" r="3.8"/>
<circle cx="959.7" cy="1325.4" r="3.8"/>
</g>
<line x1="959.7" y1="1141.3" x2="959.7" y2="1214.6" stroke="#000" stroke-width="2.0" stroke-linecap="butt"/>
<line x1="936.2" y1="1141.3" x2="983.2" y2="1141.3" stroke="#000" stroke-width="2.0" stroke-linecap="butt"/>
<line x1="936.2" y1="1214.6" x2="983.2" y2="1214.6" stroke="#000" stroke-width="2.0" stroke-linecap="butt"/>
<line x1="914.4" y1="1177.8" x2="1005.0" y2="1177.8" stroke="#000" stroke-width="4.0" stroke-linecap="butt"/>
<text font-size="44.5" text-anchor="end" font-style="italic" transform="translate(837.5 1495.3) rotate(-45) scale(1 1.04)">Control<tspan font-size="34" dx="0" dy="-16.2">TAF1</tspan></text>
<text font-size="44.5" text-anchor="end" font-style="italic" transform="translate(973.4 1495.3) rotate(-45) scale(1 1.04)">Patient<tspan font-size="34" dx="0" dy="-16.2">TAF1</tspan></text>
</svg>
</body>
</html>
